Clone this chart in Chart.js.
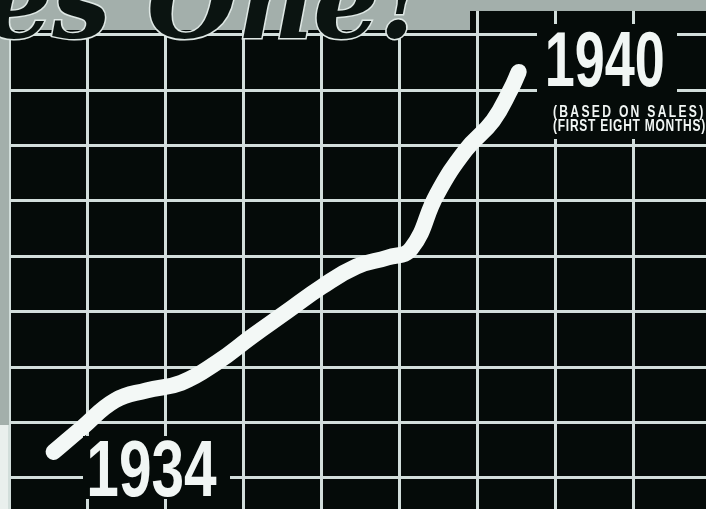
<!DOCTYPE html>
<html>
<head>
<meta charset="utf-8">
<script src="https://cdn.jsdelivr.net/npm/chart.js@4.4.0/dist/chart.umd.min.js"></script>
<style>
    html, body { margin: 0; padding: 0; background: #050b09; }
    canvas { display: block; }
</style>
</head>
<body>
<canvas id="salesChart" width="706" height="509"></canvas>
<script>
// sales curve (year, index in grid squares)
const saleYears = [1934.06, 1934.42, 1934.85, 1935.25, 1935.70, 1936.15, 1936.60, 1937.05, 1937.50,
    1937.95, 1938.35, 1938.65, 1938.98, 1939.35, 1939.70, 1939.93, 1940.03];
const saleIndex = [0.47, 0.90, 1.40, 1.58, 1.72, 2.08, 2.55, 3.00, 3.45,
    3.82, 3.98, 4.14, 5.12, 5.92, 6.45, 7.02, 7.33];

// grid lines sit half way between the years
const yearGridLines = [1933.5, 1934.5, 1935.5, 1936.5, 1937.5, 1938.5, 1939.5, 1940.5, 1941.5];
const indexGridLines = [0, 1, 2, 3, 4, 5, 6, 7, 8];

const startLabel = '1934';
const endLabel = '1940';
const noteLines = ['(BASED ON SALES)', '(FIRST EIGHT MONTHS)'];
const headline = 'es One!';

const GRID_COLOR = '#d2dedb';
const INK = '#050b09';

/**
 * draw text squeezed into a box (ink bounds)
 */
function fitText(ctx, text, left, top, width, height, font, spacing) {
    ctx.save();
    ctx.font = font;
    ctx.letterSpacing = spacing || '0px';
    const m = ctx.measureText(text);
    const inkW = m.actualBoundingBoxLeft + m.actualBoundingBoxRight;
    const inkH = m.actualBoundingBoxAscent + m.actualBoundingBoxDescent;
    ctx.translate(left, top);
    ctx.scale(width / inkW, height / inkH);
    ctx.textBaseline = 'alphabetic';
    ctx.textAlign = 'left';
    ctx.fillStyle = '#f1f6f4';
    ctx.fillText(text, m.actualBoundingBoxLeft, m.actualBoundingBoxAscent);
    ctx.restore();
}

const backdrop = {
    id: 'backdrop',
    beforeDraw(chart) {
        const ctx = chart.ctx;
        ctx.save();
        ctx.fillStyle = INK;
        ctx.fillRect(0, 0, chart.width, chart.height);
        ctx.restore();
    },
    afterDatasetsDraw(chart) {
        const ctx = chart.ctx;
        ctx.save();

        // paper edge on the left and top
        ctx.fillStyle = '#a3afab';
        ctx.fillRect(0, 0, 9, 425);
        ctx.fillRect(0, 0, chart.width, 11);
        ctx.fillRect(0, 0, 470, 30);
        ctx.fillStyle = '#e9efed';
        ctx.fillRect(0, 425, 8, chart.height - 425);

        // headline lettering, cut off by the top edge
        ctx.font = 'bold italic 104px "DejaVu Serif"';
        ctx.textBaseline = 'alphabetic';
        ctx.lineWidth = 3;
        ctx.strokeStyle = '#dfe8e5';
        ctx.fillStyle = '#0b1411';
        ctx.strokeText(headline, -14, 38);
        ctx.fillText(headline, -14, 38);

        // black patches behind the labels
        ctx.fillStyle = INK;
        ctx.fillRect(83, 436, 147, 63);
        ctx.fillRect(537, 24, 140, 72);
        ctx.fillRect(545, 96, 161, 43);
        ctx.restore();

        fitText(ctx, startLabel, 90, 440, 127, 57, 'bold 80px "Liberation Sans"');
        fitText(ctx, endLabel, 548, 32, 115, 55, 'bold 80px "Liberation Sans"');
        fitText(ctx, noteLines[0], 553, 104, 150, 16, 'bold 16px "Liberation Sans"', '3px');
        fitText(ctx, noteLines[1], 553, 118, 152, 16, 'bold 16px "Liberation Sans"', '1px');
    }
};

const gridOptions = {
    color: GRID_COLOR,
    lineWidth: 3,
    drawTicks: false
};

new Chart(document.getElementById('salesChart'), {
    type: 'line',
    data: {
        datasets: [{
            data: saleYears.map((year, i) => ({ x: year, y: saleIndex[i] })),
            borderColor: '#f3f8f6',
            borderWidth: 16,
            borderCapStyle: 'round',
            borderJoinStyle: 'round',
            tension: 0.45,
            pointRadius: 0,
            fill: false
        }]
    },
    options: {
        responsive: false,
        animation: false,
        devicePixelRatio: 1,
        events: [],
        layout: { padding: 0 },
        plugins: {
            legend: { display: false },
            tooltip: { enabled: false }
        },
        scales: {
            x: {
                type: 'linear',
                min: 1933.372,
                max: 1942.434,
                afterBuildTicks: axis => { axis.ticks = yearGridLines.map(v => ({ value: v })); },
                afterFit: axis => { axis.height = 0; },
                ticks: { display: false },
                border: { display: false },
                grid: gridOptions
            },
            y: {
                type: 'linear',
                min: -0.560,
                max: 8.628,
                afterBuildTicks: axis => { axis.ticks = indexGridLines.map(v => ({ value: v })); },
                afterFit: axis => { axis.width = 0; },
                ticks: { display: false },
                border: { display: false },
                grid: gridOptions
            }
        }
    },
    plugins: [backdrop]
});
</script>
</body>
</html>
